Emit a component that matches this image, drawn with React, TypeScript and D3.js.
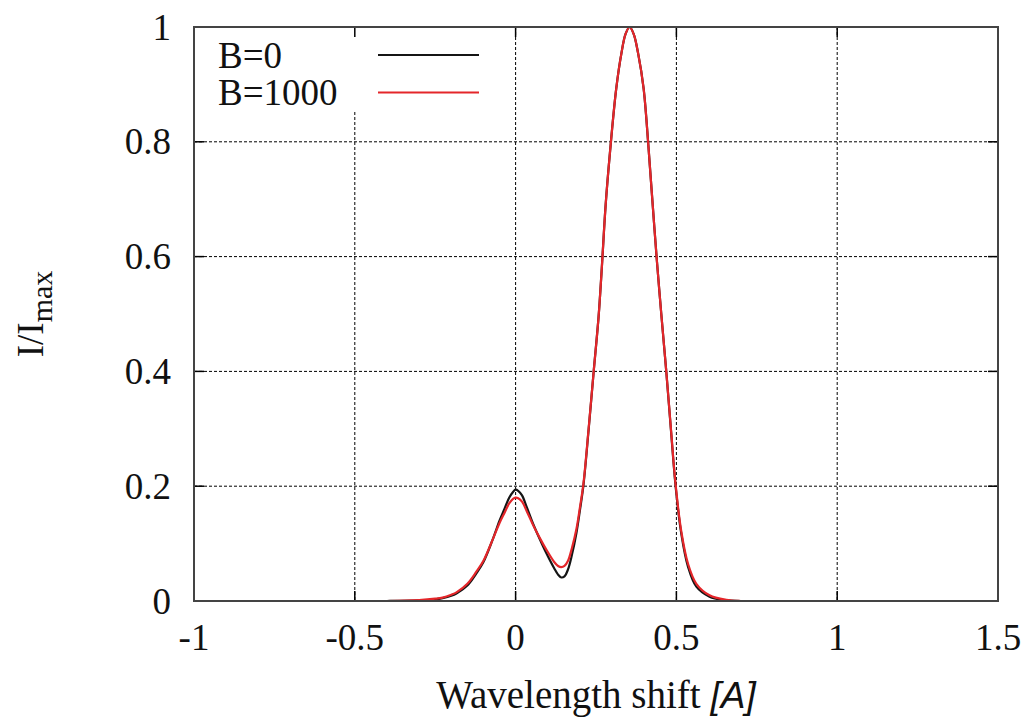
import React from "react";
import * as d3 from "d3";

const xTicks = [-1, -0.5, 0, 0.5, 1, 1.5];
const yTicks = [0, 0.2, 0.4, 0.6, 0.8, 1];
const xTickLabels = ["-1", "-0.5", "0", "0.5", "1", "1.5"];
const yTickLabels = ["0", "0.2", "0.4", "0.6", "0.8", "1"];

const seriesNames = ["B=0", "B=1000"];
const seriesColors = ["#151515", "#e4262a"];

// B=0 curve
const b0X = [-1, -0.6, -0.4, -0.3, -0.25, -0.227, -0.2, -0.184, -0.15, -0.122, -0.1, -0.072, -0.05, -0.035, -0.02, -0.008, 0, 0.008, 0.02, 0.035, 0.054, 0.075, 0.095, 0.12, 0.132, 0.142, 0.152, 0.163, 0.175, 0.189, 0.2, 0.211, 0.227, 0.2425, 0.258, 0.268, 0.28, 0.294, 0.313, 0.329, 0.342, 0.3545, 0.367, 0.381, 0.398, 0.412, 0.425, 0.439, 0.453, 0.4685, 0.483, 0.4975, 0.515, 0.536, 0.562, 0.603, 0.655, 0.7, 0.8, 1.0, 1.5];
const b0Y = [0, 0, 0, 0.001, 0.003, 0.005, 0.009, 0.013, 0.027, 0.048, 0.068, 0.106, 0.14, 0.16, 0.18, 0.19, 0.194, 0.192, 0.184, 0.163, 0.135, 0.108, 0.084, 0.057, 0.046, 0.041, 0.043, 0.055, 0.08, 0.118, 0.158, 0.202, 0.298, 0.398, 0.495, 0.58, 0.69, 0.785, 0.893, 0.954, 0.988, 1.0, 0.988, 0.954, 0.893, 0.8, 0.7, 0.595, 0.5, 0.4, 0.298, 0.2, 0.118, 0.06, 0.025, 0.0075, 0.001, 0, 0, 0, 0];

// B=1000 curve
const b1X = [-1, -0.6, -0.4, -0.3, -0.25, -0.227, -0.2, -0.184, -0.15, -0.122, -0.1, -0.072, -0.05, -0.035, -0.02, -0.008, 0, 0.008, 0.02, 0.035, 0.054, 0.075, 0.095, 0.12, 0.132, 0.142, 0.152, 0.163, 0.175, 0.189, 0.2, 0.211, 0.227, 0.2425, 0.258, 0.268, 0.28, 0.294, 0.313, 0.329, 0.342, 0.3545, 0.367, 0.381, 0.398, 0.412, 0.425, 0.439, 0.453, 0.4685, 0.483, 0.4975, 0.515, 0.536, 0.562, 0.603, 0.655, 0.7, 0.8, 1.0, 1.5];
const b1Y = [0, 0, 0, 0.0015, 0.004, 0.006, 0.011, 0.015, 0.03, 0.051, 0.07, 0.106, 0.136, 0.153, 0.17, 0.178, 0.18, 0.179, 0.173, 0.156, 0.133, 0.11, 0.09, 0.068, 0.061, 0.059, 0.061, 0.07, 0.092, 0.125, 0.163, 0.205, 0.3, 0.398, 0.495, 0.58, 0.69, 0.785, 0.893, 0.954, 0.988, 1.0, 0.988, 0.954, 0.893, 0.8, 0.7, 0.595, 0.5, 0.4, 0.3, 0.203, 0.122, 0.065, 0.03, 0.01, 0.002, 0, 0, 0, 0];

const W = 1032;
const H = 719;
const left = 194;
const right = 998;
const top = 27;
const bottom = 601;

export default function App() {
  const x = d3.scaleLinear().domain([-1, 1.5]).range([left, right]);
  const y = d3.scaleLinear().domain([0, 1]).range([bottom, top]);
  const line = d3
    .line<[number, number]>()
    .x((d) => x(d[0]))
    .y((d) => y(Math.max(0, d[1])))
    .curve(d3.curveCatmullRom.alpha(0.5));

  const series = [
    b0X.map((v, i) => [v, b0Y[i]] as [number, number]),
    b1X.map((v, i) => [v, b1Y[i]] as [number, number]),
  ];

  const serif = "'Liberation Serif', 'Times New Roman', serif";
  const fs = 37;
  const tickLen = 10;

  return (
    <svg
      width={W}
      height={H}
      style={{ position: "absolute", left: 0, top: 0, background: "#fff" }}
    >
      <rect x={0} y={0} width={W} height={H} fill="#fff" />
      <defs>
        <clipPath id="plot">
          <rect x={left} y={top - 2} width={right - left} height={bottom - top + 2} />
        </clipPath>
      </defs>
      {/* grid */}
      {xTicks
        .filter((t) => t > -1 && t < 1.5)
        .map((t) => (
          <line
            key={"gx" + t}
            x1={x(t)}
            x2={x(t)}
            y1={top}
            y2={bottom}
            stroke="#000"
            strokeWidth={1}
            strokeDasharray="3,2"
          />
        ))}
      {yTicks
        .filter((t) => t > 0 && t < 1)
        .map((t) => (
          <line
            key={"gy" + t}
            x1={left}
            x2={right}
            y1={y(t)}
            y2={y(t)}
            stroke="#000"
            strokeWidth={1}
            strokeDasharray="3,2"
          />
        ))}
      {/* legend background */}
      <rect x={left + 1} y={top + 1} width={300} height={84} fill="#fff" />
      {/* ticks */}
      {xTicks.map((t) => (
        <g key={"tx" + t}>
          <line x1={x(t)} x2={x(t)} y1={bottom} y2={bottom - tickLen} stroke="#000" strokeWidth={1.5} />
          <line x1={x(t)} x2={x(t)} y1={top} y2={top + tickLen} stroke="#000" strokeWidth={1.5} />
        </g>
      ))}
      {yTicks.map((t) => (
        <g key={"ty" + t}>
          <line x1={left} x2={left + tickLen} y1={y(t)} y2={y(t)} stroke="#000" strokeWidth={1.5} />
          <line x1={right} x2={right - tickLen} y1={y(t)} y2={y(t)} stroke="#000" strokeWidth={1.5} />
        </g>
      ))}
      {/* curves */}
      <g clipPath="url(#plot)">
        {series.map((s, i) => (
          <path
            key={"s" + i}
            d={line(s) || ""}
            fill="none"
            stroke={seriesColors[i]}
            strokeWidth={2.2}
            strokeLinejoin="round"
          />
        ))}
      </g>
      {/* frame */}
      <rect
        x={left}
        y={top}
        width={right - left}
        height={bottom - top}
        fill="none"
        stroke="#444"
        strokeWidth={2}
      />
      {/* tick labels */}
      {xTicks.map((t, i) => (
        <text
          key={"lx" + t}
          x={x(t)}
          y={650}
          textAnchor="middle"
          fontFamily={serif}
          fontSize={fs}
          fill="#111"
        >
          {xTickLabels[i]}
        </text>
      ))}
      {yTicks.map((t, i) => (
        <text
          key={"ly" + t}
          x={171}
          y={y(t)}
          dy="0.34em"
          textAnchor="end"
          fontFamily={serif}
          fontSize={fs}
          fill="#111"
        >
          {yTickLabels[i]}
        </text>
      ))}
      {/* axis titles */}
      <text
        x={(left + right) / 2}
        y={708}
        textAnchor="middle"
        fontFamily={serif}
        fontSize={39}
        fill="#111"
      >
        Wavelength shift{" "}
        <tspan fontFamily="'Liberation Sans', Arial, sans-serif" fontStyle="italic" fontSize={37}>
          [A]
        </tspan>
      </text>
      <text
        transform={`translate(43, ${(top + bottom) / 2}) rotate(-90)`}
        textAnchor="middle"
        fontFamily={serif}
        fontSize={fs}
        fill="#111"
      >
        I/I
        <tspan fontSize={30} dy={9}>
          max
        </tspan>
      </text>
      {/* legend */}
      {seriesNames.map((n, i) => (
        <g key={"leg" + i}>
          <text
            x={218}
            y={68 + i * 37}
            fontFamily={serif}
            fontSize={fs}
            fill="#111"
          >
            {n}
          </text>
          <line
            x1={378}
            x2={479}
            y1={55 + i * 37.5}
            y2={55 + i * 37.5}
            stroke={seriesColors[i]}
            strokeWidth={2}
          />
        </g>
      ))}
    </svg>
  );
}
